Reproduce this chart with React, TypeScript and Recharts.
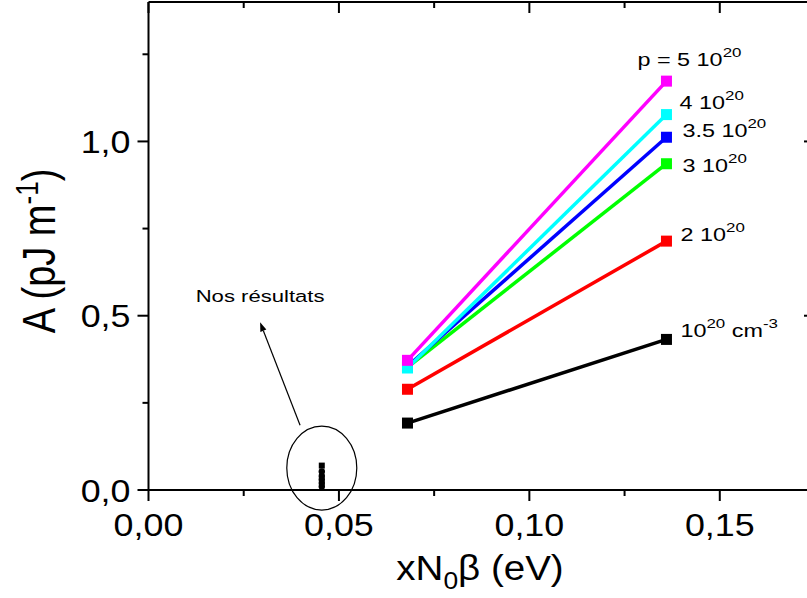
import {
  ComposedChart,
  Line,
  Scatter,
  XAxis,
  YAxis,
  ReferenceDot,
  ReferenceLine,
} from 'recharts';

// x positions of the two computed points (eV)
const xValues = [0.068, 0.136];

// A (pJ m^-1) for each hole concentration
const p1 = [0.192, 0.432];
const p2 = [0.289, 0.714];
const p3 = [0.352, 0.936];
const p35 = [0.355, 1.012];
const p4 = [0.35, 1.077];
const p5 = [0.372, 1.173];

// "Nos résultats" markers
const ourX = [0.0455, 0.0455, 0.0455, 0.0455, 0.0455, 0.0455];
const ourY = [0.07, 0.053, 0.04, 0.03, 0.02, 0.01];

// annotation anchors
const ellipseAt = { x: 0.0455, y: 0.063 };
const arrowFrom = { x: 0.0398, y: 0.186 };
const arrowTo = { x: 0.0293, y: 0.481 };
const noteAt = { x: 0.0293, y: 0.539 };

const xTicks = [0, 0.025, 0.05, 0.075, 0.1, 0.125, 0.15, 0.175];
const yTicks = [0, 0.25, 0.5, 0.75, 1.0, 1.25];

const series = [
  { key: 'p1', values: p1, color: '#000000', label: ['10', '20', ' cm', '-3'], dx: 14, dy: -2 },
  { key: 'p2', values: p2, color: '#ff0000', label: ['2 10', '20'], dx: 14, dy: 0 },
  { key: 'p3', values: p3, color: '#00ff00', label: ['3 10', '20'], dx: 16, dy: 8 },
  { key: 'p35', values: p35, color: '#0000ff', label: ['3.5 10', '20'], dx: 16, dy: 0 },
  { key: 'p4', values: p4, color: '#00ffff', label: ['4 10', '20'], dx: 13, dy: -6 },
  { key: 'p5', values: p5, color: '#ff00ff', label: ['p = 5 10', '20'], dx: -29, dy: -15 },
];

const data = xValues.map((x, i) => {
  const row: any = { x };
  series.forEach((s) => {
    row[s.key] = s.values[i];
  });
  return row;
});

const ourData = ourX.map((x, i) => ({ x, y: ourY[i] }));

const FONT = 'Arial, "Liberation Sans", sans-serif';

const isMajor = (v: number, step: number) => Math.abs(v / step - Math.round(v / step)) < 1e-6;

// text in the original figure is a little wider than plain Arial
const WideText = ({ x, y, sx = 1.12, children, ...rest }: any) => (
  <text transform={`translate(${x} ${y}) scale(${sx} 1)`} fontFamily={FONT} fill="#000" {...rest}>
    {children}
  </text>
);

const BottomTick = (props: any) => {
  const { x, y, payload } = props;
  const major = isMajor(payload.value, 0.05);
  return (
    <g>
      <line x1={x} y1={y} x2={x} y2={y + (major ? 11 : 6)} stroke="#000" strokeWidth={2} />
      {major && (
        <WideText x={x} y={y + 46} textAnchor="middle" fontSize={32}>
          {payload.value.toFixed(2).replace('.', ',')}
        </WideText>
      )}
    </g>
  );
};

const TopTick = (props: any) => {
  const { x, y, payload } = props;
  const major = isMajor(payload.value, 0.05);
  return <line x1={x} y1={y} x2={x} y2={y + (major ? 11 : 6)} stroke="#000" strokeWidth={2} />;
};

const LeftTick = (props: any) => {
  const { x, y, payload } = props;
  const major = isMajor(payload.value, 0.5);
  return (
    <g>
      <line x1={x} y1={y} x2={x - (major ? 11 : 6)} y2={y} stroke="#000" strokeWidth={2} />
      {major && (
        <WideText x={x - 18} y={y + 11.5} textAnchor="end" fontSize={32}>
          {payload.value.toFixed(1).replace('.', ',')}
        </WideText>
      )}
    </g>
  );
};

const RightTick = (props: any) => {
  const { x, y, payload } = props;
  const major = isMajor(payload.value, 0.5);
  return <line x1={x} y1={y} x2={x - (major ? 11 : 6)} y2={y} stroke="#000" strokeWidth={2} />;
};

const SquareDot = (props: any) => {
  const { cx, cy, stroke } = props;
  if (cx == null || cy == null) return null;
  return <rect x={cx - 5.5} y={cy - 5.5} width={11} height={11} fill={stroke} />;
};

const makeLabel = (s: (typeof series)[number]) => (props: any) => {
  const { x, y, index } = props;
  if (index !== 1) return null;
  const parts = s.label;
  return (
    <WideText x={x + s.dx} y={y + s.dy} sx={1.3} fontSize={18}>
      <tspan>{parts[0]}</tspan>
      <tspan dy={-9} fontSize={13}>{parts[1]}</tspan>
      {parts[2] && <tspan dy={9}>{parts[2]}</tspan>}
      {parts[3] && <tspan dy={-9} fontSize={13}>{parts[3]}</tspan>}
    </WideText>
  );
};

const OurMark = (props: any) => {
  const { cx, cy, index } = props;
  if (index === 0) return <rect x={cx - 3} y={cy - 3} width={6} height={6} fill="#000" />;
  return <circle cx={cx} cy={cy} r={3.2} fill="#000" />;
};

const Arrow = (props: any) => {
  const { x1, y1, x2, y2 } = props;
  const ang = Math.atan2(y2 - y1, x2 - x1);
  const len = 9;
  const w = 3.2;
  const bx = x2 - len * Math.cos(ang);
  const by = y2 - len * Math.sin(ang);
  const px = -Math.sin(ang) * w;
  const py = Math.cos(ang) * w;
  return (
    <g>
      <line x1={x1} y1={y1} x2={bx} y2={by} stroke="#000" strokeWidth={1.2} />
      <polygon points={`${x2},${y2} ${bx + px},${by + py} ${bx - px},${by - py}`} fill="#000" />
    </g>
  );
};

export default function App() {
  return (
    <div style={{ position: 'absolute', left: 0, top: 0, width: 807, height: 598, overflow: 'hidden', background: '#fff' }}>
      <ComposedChart width={830} height={598} data={data} margin={{ top: 1, right: 14, bottom: 0, left: 0 }}>
        <XAxis
          xAxisId="b"
          dataKey="x"
          type="number"
          domain={[0, 0.175]}
          ticks={xTicks}
          interval={0}
          height={108}
          tickSize={0}
          tickMargin={0}
          tick={<BottomTick />}
          axisLine={{ stroke: '#000', strokeWidth: 2 }}
          tickLine={false}
          allowDataOverflow
        />
        <XAxis
          xAxisId="t"
          orientation="top"
          dataKey="x"
          type="number"
          domain={[0, 0.175]}
          ticks={xTicks}
          interval={0}
          height={1}
          tickSize={0}
          tickMargin={0}
          tick={<TopTick />}
          axisLine={{ stroke: '#000', strokeWidth: 2 }}
          tickLine={false}
          allowDataOverflow
        />
        <YAxis
          yAxisId="l"
          type="number"
          domain={[0, 1.4]}
          ticks={yTicks}
          interval={0}
          width={148.5}
          tickSize={0}
          tickMargin={0}
          tick={<LeftTick />}
          axisLine={{ stroke: '#000', strokeWidth: 2 }}
          tickLine={false}
          allowDataOverflow
        />
        <YAxis
          yAxisId="r"
          orientation="right"
          type="number"
          domain={[0, 1.4]}
          ticks={yTicks}
          interval={0}
          width={1}
          tickSize={0}
          tickMargin={0}
          tick={<RightTick />}
          axisLine={{ stroke: '#000', strokeWidth: 2 }}
          tickLine={false}
          allowDataOverflow
        />

        <ReferenceDot
          xAxisId="b"
          yAxisId="l"
          x={ellipseAt.x}
          y={ellipseAt.y}
          r={0}
          shape={(p: any) => <ellipse cx={p.cx} cy={p.cy} rx={35} ry={42} fill="none" stroke="#000" strokeWidth={1.2} />}
        />
        <ReferenceLine
          xAxisId="b"
          yAxisId="l"
          segment={[arrowFrom, arrowTo]}
          shape={(p: any) => <Arrow {...p} />}
        />
        <ReferenceDot
          xAxisId="b"
          yAxisId="l"
          x={noteAt.x}
          y={noteAt.y}
          r={0}
          shape={(p: any) => (
            <WideText x={p.cx} y={p.cy} sx={1.3} textAnchor="middle" fontSize={17}>
              Nos résultats
            </WideText>
          )}
        />

        <Scatter
          xAxisId="b"
          yAxisId="l"
          data={ourData}
          dataKey="y"
          shape={<OurMark />}
          isAnimationActive={false}
        />

        {series.map((s) => (
          <Line
            key={s.key}
            xAxisId="b"
            yAxisId="l"
            dataKey={s.key}
            stroke={s.color}
            strokeWidth={3.5}
            dot={<SquareDot />}
            activeDot={false}
            label={makeLabel(s)}
            isAnimationActive={false}
          />
        ))}
      </ComposedChart>
      <svg width={807} height={598} style={{ position: 'absolute', left: 0, top: 0, pointerEvents: 'none' }}>
        <WideText x={480} y={580} sx={1.1} textAnchor="middle" fontSize={35}>
          xN<tspan dy={9} fontSize={24}>0</tspan>
          <tspan dy={-9}>β (eV)</tspan>
        </WideText>
        <text
          transform="translate(55 251) rotate(-90) scale(1 1.2)"
          textAnchor="middle"
          fontSize={38}
          fontFamily={FONT}
          fill="#000"
        >
          A (pJ m<tspan dy={-14} fontSize={26}>-1</tspan>
          <tspan dy={14}>)</tspan>
        </text>
      </svg>
    </div>
  );
}
